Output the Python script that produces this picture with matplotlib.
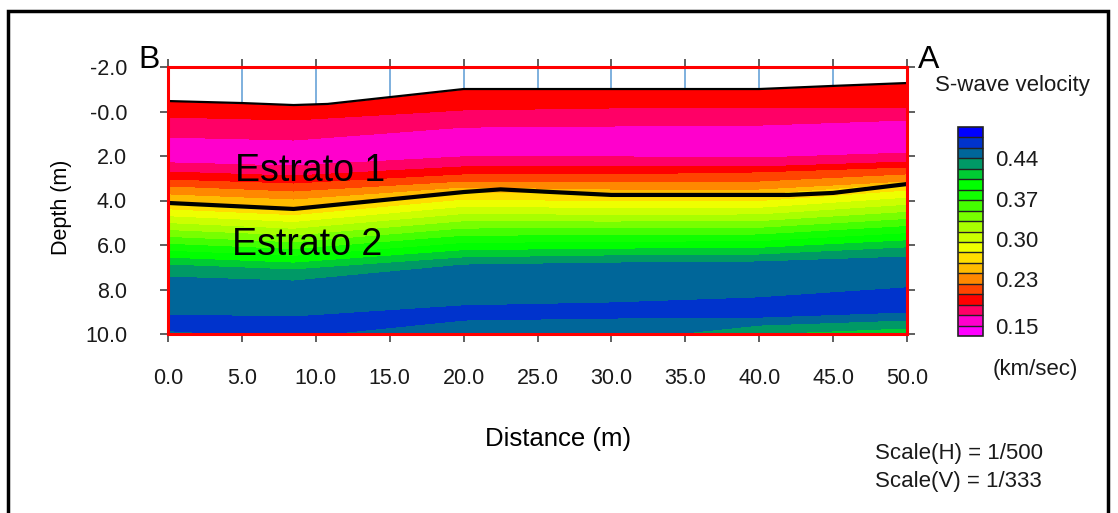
import matplotlib
matplotlib.use("Agg")
import matplotlib.pyplot as plt
import numpy as np
from matplotlib.colors import ListedColormap, BoundaryNorm
from matplotlib.patches import Rectangle

plt.rcParams['font.family'] = ['Liberation Sans', 'DejaVu Sans']

# ---- data read off the section ------------------------------------------
# columns of the velocity model (distance, m)
col_x = [0.0, 8.5, 20.0, 30.0, 40.0, 50.0]

# depth (m) of each profile knot at each column; rows = knots top -> bottom
knot_depth = [
    [-2.00, -2.00, -2.00, -2.00, -2.00, -2.00],   # above surface
    [0.25, 0.38, -0.07, -0.16, -0.16, -0.20],     # red -> crimson
    [1.15, 1.28, 0.70, 0.65, 0.61, 0.38],         # crimson -> pink
    [1.73, 1.87, 1.37, 1.33, 1.33, 1.15],         # slowest
    [2.31, 2.45, 2.04, 2.04, 2.09, 1.87],
    [2.72, 2.90, 2.49, 2.49, 2.49, 2.27],
    [3.08, 3.26, 2.85, 2.85, 2.76, 2.54],
    [3.39, 3.62, 3.17, 3.21, 3.17, 2.85],
    [3.75, 3.98, 3.44, 3.53, 3.53, 3.17],
    [4.11, 4.38, 3.66, 3.75, 3.75, 3.26],         # top of estrato 2
    [6.90, 7.12, 6.58, 6.49, 6.45, 6.13],
    [7.44, 7.62, 6.90, 6.81, 6.76, 6.54],
    [9.15, 9.24, 8.74, 8.61, 8.38, 7.93],
    [9.50, 9.73, 9.06, 8.92, 8.83, 8.47],         # fastest
    [9.85, 10.15, 9.37, 9.28, 9.24, 9.01],
    [10.05, 10.25, 10.00, 10.00, 9.60, 9.37],
    [10.30, 10.35, 10.30, 10.30, 10.30, 10.30],
]
# S-wave velocity (km/s) at each knot
knot_vel = [
    [0.200] * 6,
    [0.1863] * 6,
    [0.1682] * 6,
    [0.155] * 6,
    [0.1682] * 6,
    [0.1863] * 6,
    [0.2044] * 6,
    [0.2225] * 6,
    [0.2407] * 6,
    [0.2588] * 6,
    [0.4219] * 6,
    [0.4400] * 6,
    [0.4582] * 6,
    [0.468] * 6,
    [0.4582] * 6,
    [0.448, 0.455, 0.447, 0.445, 0.440, 0.440],
    [0.440, 0.450, 0.445, 0.440, 0.408, 0.393],
]

# ground surface and estrato 1 / 2 interface
surf_x = [0.0, 5.0, 8.5, 10.8, 20.0, 40.0, 45.0, 50.0]
surf_d = [-0.47, -0.38, -0.29, -0.34, -1.01, -1.01, -1.15, -1.28]
line_x = [0.0, 8.5, 20.0, 22.5, 26.0, 30.0, 42.0, 45.0, 50.0]
line_d = [4.11, 4.38, 3.62, 3.50, 3.62, 3.75, 3.75, 3.66, 3.26]

geophone_x = [5, 10, 15, 20, 25, 30, 35, 40, 45]

band_colors = ['#ff00ff', '#ff00cc', '#ff0066', '#ff0000', '#ff4400',
               '#ff8800', '#ffbb00', '#ffdd00', '#eeff00', '#ccff00',
               '#a8ff00', '#77ff00', '#44ff00', '#11ff00', '#00ff00',
               '#00cc33', '#009966', '#006699', '#0033cc', '#0000ff']
v_min, v_max = 0.1319, 0.4944
cbar_ticks = [0.15, 0.23, 0.30, 0.37, 0.44]

x_ticks = [0, 5, 10, 15, 20, 25, 30, 35, 40, 45, 50]
y_ticks = [-2, 0, 2, 4, 6, 8, 10]
y_labels = ['-2.0', '-0.0', '2.0', '4.0', '6.0', '8.0', '10.0']

# ---- figure ---------------------------------------------------------------
W, H = 1118, 513
fig = plt.figure(figsize=(W / 100, H / 100), dpi=100)
ax = fig.add_axes([168 / W, 1 - 334 / H, 739 / W, 267 / H])

X = np.tile(np.asarray(col_x), (len(knot_depth), 1))
Y = np.asarray(knot_depth)
Z = np.asarray(knot_vel)
levels = np.linspace(v_min, v_max, len(band_colors) + 1)
cmap = ListedColormap(band_colors)
norm = BoundaryNorm(levels, cmap.N)
cf = ax.contourf(X, Y, Z, levels=levels, cmap=cmap, norm=norm, zorder=1)

# blank out the air above the ground
ax.fill_between(surf_x, -2.0, surf_d, color='white', lw=0, zorder=2)
geo_bottom = np.interp(geophone_x, surf_x, surf_d)
ax.vlines(geophone_x, -2.0, geo_bottom, color='#5b9bd5', lw=1.1, zorder=3)
ax.plot(surf_x, surf_d, color='black', lw=1.6, zorder=4)
ax.plot(line_x, line_d, color='black', lw=3.0, zorder=4)

ax.set_xlim(0, 50)
ax.set_ylim(10, -2)
for sp in ax.spines.values():
    sp.set_color('red')
    sp.set_linewidth(2.2)
    sp.set_zorder(5)

ax.set_xticks(x_ticks)
ax.set_xticklabels([f'{v:.1f}' for v in x_ticks])
ax.set_yticks(y_ticks)
ax.set_yticklabels(y_labels)
ax.tick_params(axis='both', direction='out', length=5.5, width=1.2,
               color='#444444', labelsize=15.5, labelcolor='#1a1a1a')
ax.tick_params(axis='y', left=True, right=True, pad=24)
ax.tick_params(axis='x', bottom=True, top=True, pad=19)

ax.text(4.5, 3.12, 'Estrato 1', fontsize=27, ha='left', va='baseline', zorder=6)
ax.text(4.3, 6.45, 'Estrato 2', fontsize=27, ha='left', va='baseline', zorder=6)

small = 16
fig.text(62 / W, 1 - 207 / H, 'Depth (m)', rotation=90, fontsize=15.5,
         ha='center', va='center')
fig.text(558 / W, 1 - 439 / H, 'Distance (m)', fontsize=18.5,
         ha='center', va='center')
fig.text(149 / W, 1 - 68 / H, 'B', fontsize=23, ha='center', va='baseline')
fig.text(929 / W, 1 - 68 / H, 'A', fontsize=23, ha='center', va='baseline')
fig.text(935 / W, 1 - 86 / H, 'S-wave velocity', fontsize=small,
         ha='left', va='center', color='#1a1a1a')
fig.text(993 / W, 1 - 369 / H, '(km/sec)', fontsize=small,
         ha='left', va='center', color='#1a1a1a')
fig.text(875 / W, 1 - 453 / H, 'Scale(H) = 1/500', fontsize=small,
         ha='left', va='center', color='#1a1a1a')
fig.text(875 / W, 1 - 481 / H, 'Scale(V) = 1/333', fontsize=small,
         ha='left', va='center', color='#1a1a1a')

# colour scale
cax = fig.add_axes([958 / W, 1 - 336 / H, 25 / W, 209 / H])
cb = fig.colorbar(cf, cax=cax, drawedges=True)
cb.outline.set_edgecolor('#222222')
cb.outline.set_linewidth(1.2)
cb.dividers.set_color('#222222')
cb.dividers.set_linewidth(1.0)
cb.set_ticks(cbar_ticks)
cb.set_ticklabels([f'{v:.2f}' for v in cbar_ticks])
cax.minorticks_off()
cax.tick_params(which='both', length=0, pad=9, labelsize=small,
                labelcolor='#1a1a1a')

# outer frame
fig.add_artist(Rectangle((8 / W, -0.1), (1108 - 8) / W, (H - 11) / H + 0.1,
                         transform=fig.transFigure, fill=False,
                         ec='black', lw=2.5))

fig.savefig('out.png', dpi=100)
